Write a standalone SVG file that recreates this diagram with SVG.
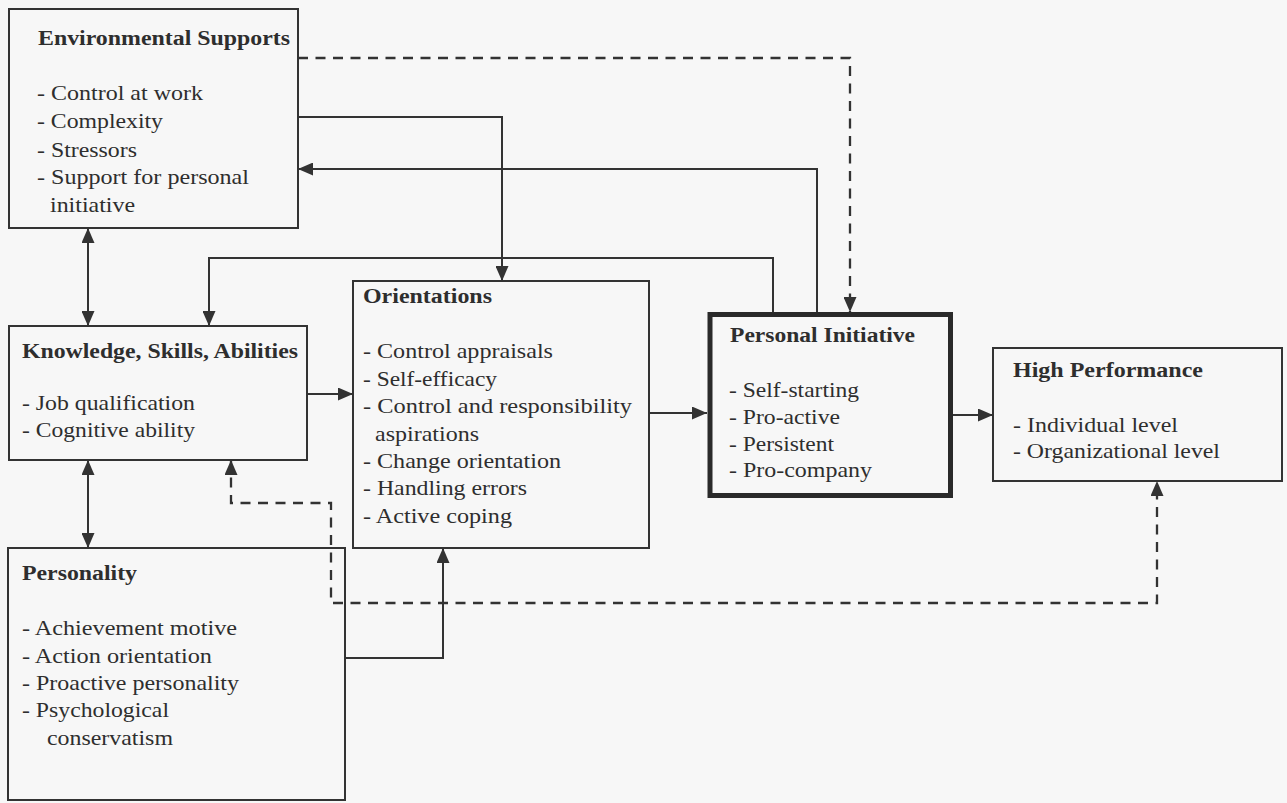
<svg xmlns="http://www.w3.org/2000/svg" width="1287" height="803" viewBox="0 0 1287 803">
<defs>
<marker id="ah" markerUnits="userSpaceOnUse" markerWidth="15" markerHeight="13" viewBox="0 0 15 13" refX="15" refY="6.5" orient="auto-start-reverse">
<path d="M0,0 L15,6.5 L0,13 Z" fill="#333" stroke="none"/>
</marker>
</defs>
<style>
.box{fill:none;stroke:#333;stroke-width:2}
.thick{fill:none;stroke:#2a2a2a;stroke-width:5}
.ln{fill:none;stroke:#333;stroke-width:2}
.dash{fill:none;stroke:#333;stroke-width:2.3;stroke-dasharray:10 7.5}
text{font-family:"Liberation Serif","Times New Roman",serif;fill:#2e2e2e}
.t{font-size:20px;font-weight:bold}
.i{font-size:21px}
</style>
<rect width="1287" height="803" fill="#f7f7f7"/>

<g id="connectors">
<path class="dash" d="M298,58 H850 V312" marker-end="url(#ah)"/>
<path class="ln" d="M298,117 H502 V281" marker-end="url(#ah)"/>
<path class="ln" d="M817,312 V169 H298" marker-end="url(#ah)"/>
<path class="ln" d="M88,228 V326" marker-start="url(#ah)" marker-end="url(#ah)"/>
<path class="ln" d="M773,312 V258 H209 V326" marker-end="url(#ah)"/>
<path class="ln" d="M307,394 H353" marker-end="url(#ah)"/>
<path class="ln" d="M88,460 V548" marker-start="url(#ah)" marker-end="url(#ah)"/>
<path class="ln" d="M345,658 H443 V548" marker-end="url(#ah)"/>
<path class="dash" d="M231,460 V503 H331 V603 H1157 V481" marker-start="url(#ah)" marker-end="url(#ah)"/>
<path class="ln" d="M649,413 H707" marker-end="url(#ah)"/>
<path class="ln" d="M953,415 H993" marker-end="url(#ah)"/>
</g>

<g id="environmental-supports">
<rect class="box" x="9" y="9" width="289" height="219"/>
<text class="t" x="38" y="45" textLength="252" lengthAdjust="spacingAndGlyphs">Environmental Supports</text>
<text class="i" x="37" y="100" textLength="166" lengthAdjust="spacingAndGlyphs">- Control at work</text>
<text class="i" x="37" y="128" textLength="126" lengthAdjust="spacingAndGlyphs">- Complexity</text>
<text class="i" x="37" y="157" textLength="100" lengthAdjust="spacingAndGlyphs">- Stressors</text>
<text class="i" x="37" y="184" textLength="212" lengthAdjust="spacingAndGlyphs">- Support for personal</text>
<text class="i" x="50" y="212" textLength="85" lengthAdjust="spacingAndGlyphs">initiative</text>
</g>

<g id="knowledge-skills-abilities">
<rect class="box" x="9" y="326" width="298" height="134"/>
<text class="t" x="22" y="358" textLength="276" lengthAdjust="spacingAndGlyphs">Knowledge, Skills, Abilities</text>
<text class="i" x="22" y="410" textLength="173" lengthAdjust="spacingAndGlyphs">- Job qualification</text>
<text class="i" x="22" y="437" textLength="173" lengthAdjust="spacingAndGlyphs">- Cognitive ability</text>
</g>

<g id="orientations">
<rect class="box" x="353" y="281" width="296" height="267"/>
<text class="t" x="363" y="303" textLength="129" lengthAdjust="spacingAndGlyphs">Orientations</text>
<text class="i" x="363" y="358" textLength="190" lengthAdjust="spacingAndGlyphs">- Control appraisals</text>
<text class="i" x="363" y="386" textLength="134" lengthAdjust="spacingAndGlyphs">- Self-efficacy</text>
<text class="i" x="363" y="413" textLength="269" lengthAdjust="spacingAndGlyphs">- Control and responsibility</text>
<text class="i" x="375" y="441" textLength="104" lengthAdjust="spacingAndGlyphs">aspirations</text>
<text class="i" x="363" y="468" textLength="198" lengthAdjust="spacingAndGlyphs">- Change orientation</text>
<text class="i" x="363" y="495" textLength="164" lengthAdjust="spacingAndGlyphs">- Handling errors</text>
<text class="i" x="363" y="523" textLength="149" lengthAdjust="spacingAndGlyphs">- Active coping</text>
</g>

<g id="personal-initiative">
<rect class="thick" x="710" y="314.5" width="240.5" height="181"/>
<text class="t" x="730" y="342" textLength="185" lengthAdjust="spacingAndGlyphs">Personal Initiative</text>
<text class="i" x="729" y="397" textLength="130" lengthAdjust="spacingAndGlyphs">- Self-starting</text>
<text class="i" x="729" y="424" textLength="111" lengthAdjust="spacingAndGlyphs">- Pro-active</text>
<text class="i" x="729" y="451" textLength="105" lengthAdjust="spacingAndGlyphs">- Persistent</text>
<text class="i" x="729" y="477" textLength="143" lengthAdjust="spacingAndGlyphs">- Pro-company</text>
</g>

<g id="high-performance">
<rect class="box" x="993" y="348" width="289" height="133"/>
<text class="t" x="1013" y="377" textLength="190" lengthAdjust="spacingAndGlyphs">High Performance</text>
<text class="i" x="1013" y="432" textLength="165" lengthAdjust="spacingAndGlyphs">- Individual level</text>
<text class="i" x="1013" y="458" textLength="207" lengthAdjust="spacingAndGlyphs">- Organizational level</text>
</g>

<g id="personality">
<rect class="box" x="8" y="548" width="337" height="252"/>
<text class="t" x="22" y="580" textLength="115" lengthAdjust="spacingAndGlyphs">Personality</text>
<text class="i" x="22" y="635" textLength="215" lengthAdjust="spacingAndGlyphs">- Achievement motive</text>
<text class="i" x="22" y="663" textLength="190" lengthAdjust="spacingAndGlyphs">- Action orientation</text>
<text class="i" x="22" y="690" textLength="217" lengthAdjust="spacingAndGlyphs">- Proactive personality</text>
<text class="i" x="22" y="717" textLength="147" lengthAdjust="spacingAndGlyphs">- Psychological</text>
<text class="i" x="47" y="745" textLength="126" lengthAdjust="spacingAndGlyphs">conservatism</text>
</g>
</svg>
